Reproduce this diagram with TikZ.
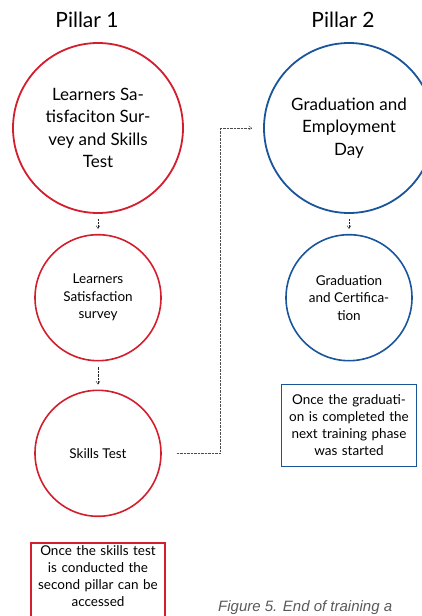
\documentclass[tikz,border=0pt]{standalone}
\usepackage{fontspec}
\setmainfont{Lato}
\newfontfamily\capfont{Liberation Sans}
\usetikzlibrary{arrows.meta, positioning}
\definecolor{cRed}{RGB}{210,30,45}
\definecolor{cNavy}{RGB}{25,85,155}
\definecolor{cCaption}{RGB}{90,90,90}
\tikzset{
  pillarnode/.style={font=\fontsize{21}{25}\selectfont, inner sep=0pt},
  bigcircle/.style={circle, line width=1.8pt, minimum size=170pt,
                    inner sep=0pt, align=center,
                    font=\fontsize{17}{22.5}\selectfont},
  smallcircle/.style={circle, line width=1.6pt, minimum size=126pt,
                      inner sep=0pt, align=center,
                      font=\fontsize{13.5}{17.5}\selectfont},
  notebox/.style={rectangle, line width=1.6pt, text width=128pt,
                  align=center, inner sep=3pt,
                  font=\fontsize{13.5}{17}\selectfont},
  dotarrow/.style={-{Straight Barb[length=3pt,width=4pt]}, densely dotted,
                   thin, black!85, shorten <=5pt, shorten >=5pt},
  linkarrow/.style={-{Straight Barb[length=3pt,width=4pt]}, densely dotted,
                    thin, black!70, shorten <=15pt, shorten >=11pt}
}
\begin{document}
\begin{tikzpicture}[x=1pt, y=-1pt, node distance=20pt]
  \useasboundingbox (0,0) rectangle (422,616);

  % -- Pillar 1 --
  \node[pillarnode] (p1) at (87,20) {Pillar 1};
  \node[bigcircle, draw=cRed] (survey) at (98,128)
      {Learners Sa-\\tisfaciton Sur-\\vey and Skills\\Test};
  \node[smallcircle, draw=cRed, below=20pt of survey] (satis)
      {Learners\\Satisfaction\\survey};
  \node[smallcircle, draw=cRed, below=28pt of satis] (skills)
      {Skills Test};
  \node[notebox, draw=cRed, below=25pt of skills] (note1)
      {Once the skills test\\is conducted the\\second pillar can be\\accessed\\[-4pt]\mbox{}};

  % -- Pillar 2 --
  \node[pillarnode] (p2) at (343,20) {Pillar 2};
  \node[bigcircle, draw=cNavy] (grad) at (349,128)
      {Graduation and\\Employment\\Day};
  \node[smallcircle, draw=cNavy, below=20pt of grad] (cert)
      {Graduation\\and Certifica-\\tion};
  \node[notebox, draw=cNavy, below=22pt of cert, minimum height=82pt,
        text width=129pt] (note2)
      {Once the graduati-\\on is completed the\\next training phase\\was started};

  % -- caption --
  \node[anchor=base west, inner sep=0pt, text=cCaption,
        font=\capfont\itshape\fontsize{15}{18}\selectfont] (caption) at (218,611)
      {Figure 5. End of training a};

  % -- arrows --
  \draw[dotarrow] (survey.south) -- (satis.north);
  \draw[dotarrow] (satis.south) -- (skills.north);
  \draw[dotarrow] (grad.south) -- (cert.north);
  \draw[linkarrow] (skills.east) -- ++(58,0) |- (grad.west);
\end{tikzpicture}
\end{document}
